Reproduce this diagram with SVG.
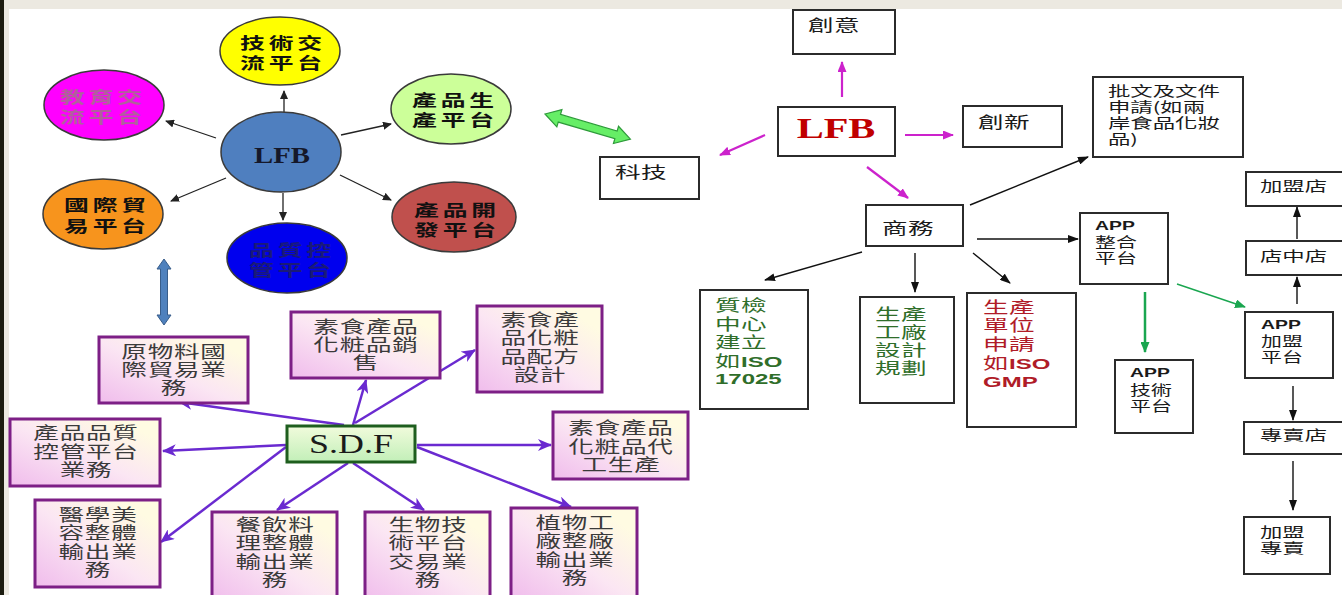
<svg xmlns="http://www.w3.org/2000/svg" width="1342" height="595" viewBox="0 0 1342 595">
<style>
.ct{font-family:"Noto Sans CJK TC","Noto Sans CJK SC",sans-serif;font-size:16px;font-weight:700;letter-spacing:2.5px;text-anchor:middle;}
.circ{stroke:#3a3a3a;stroke-width:1.5;}
.sbox{fill:url(#pk);stroke:#7d1f86;stroke-width:3;}
.st{font-family:"Noto Sans CJK TC","Noto Sans CJK SC",sans-serif;font-size:16.5px;fill:#3a3a3a;text-anchor:middle;letter-spacing:0.5px;}
.rbox{fill:#fff;stroke:#2b2b2b;stroke-width:2;}
.rt{font-family:"Noto Sans CJK TC","Noto Sans CJK SC",sans-serif;font-size:16px;fill:#1a1a1a;letter-spacing:0.3px;}
.r16{font-size:14px;letter-spacing:0;}
.r15{font-size:13.5px;letter-spacing:0;}
.lat{font-family:"Liberation Sans",Arial,sans-serif;font-weight:700;letter-spacing:0;}
.gt{fill:#2f6e2a;}
.redt{fill:#b01c28;}
.thin{stroke:#222;stroke-width:1.3;fill:none;marker-end:url(#as);}
.blk{stroke:#111;stroke-width:1.4;fill:none;marker-end:url(#ab);}
.mag{stroke:#cc22cc;stroke-width:2.2;fill:none;marker-end:url(#am);}
.grn{stroke:#1aa650;stroke-width:1.4;fill:none;marker-end:url(#ag);}
.pur{stroke:#6a2ad0;stroke-width:2.5;fill:none;marker-end:url(#ap);}
</style>
<defs>
<linearGradient id="pk" x1="0" y1="1" x2="0.85" y2="0.15">
<stop offset="0" stop-color="#f0bcec"/>
<stop offset="0.55" stop-color="#fbe6f3"/>
<stop offset="1" stop-color="#fffbe2"/>
</linearGradient>
<linearGradient id="gg" x1="0" y1="0" x2="0" y2="1">
<stop offset="0" stop-color="#f1fbdc"/>
<stop offset="1" stop-color="#c2efb8"/>
</linearGradient>
<marker id="as" markerUnits="userSpaceOnUse" markerWidth="9" markerHeight="8" refX="8" refY="4" orient="auto"><path d="M0,0 L9,4 L0,8 z" fill="#222"/></marker>
<marker id="ab" markerUnits="userSpaceOnUse" markerWidth="11" markerHeight="8" refX="10" refY="4" orient="auto"><path d="M0,0 L11,4 L0,8 z" fill="#111"/></marker>
<marker id="am" markerUnits="userSpaceOnUse" markerWidth="11" markerHeight="9" refX="10" refY="4.5" orient="auto"><path d="M0,0 L11,4.5 L0,9 z" fill="#cc22cc"/></marker>
<marker id="ag" markerUnits="userSpaceOnUse" markerWidth="11" markerHeight="9" refX="10" refY="4.5" orient="auto"><path d="M0,0 L11,4.5 L0,9 z" fill="#1aa650"/></marker>
<marker id="ap" markerUnits="userSpaceOnUse" markerWidth="14" markerHeight="12" refX="13" refY="6" orient="auto"><path d="M0,0 L14,6 L0,12 L4,6 z" fill="#6a2ad0"/></marker>
</defs>

<rect x="0" y="0" width="1342" height="595" fill="#ffffff"/>
<rect x="0" y="0" width="1342" height="9" fill="#ece9e1"/>
<rect x="4" y="0" width="5" height="595" fill="#ece9e1"/>
<rect x="0" y="0" width="4" height="595" fill="#1c1c10"/>

<g id="connectors">
<line class="thin" x1="284" y1="113" x2="284" y2="91"/>
<line class="thin" x1="216" y1="138" x2="166" y2="121"/>
<line class="thin" x1="341" y1="135" x2="391" y2="124"/>
<line class="thin" x1="226" y1="178" x2="171" y2="201"/>
<line class="thin" x1="283" y1="193" x2="283" y2="220"/>
<line class="thin" x1="340" y1="175" x2="391" y2="200"/>
<polygon points="164,259 171,269 167.5,269 167.5,315 171,315 164,325 157,315 160.5,315 160.5,269 157,269" fill="#4f81bd" stroke="#385d8a" stroke-width="1"/>
<polygon transform="translate(545,114) rotate(16.4)" points="0,0 15,-9 15,-4 74,-4 74,-9 89,0 74,9 74,4 15,4 15,9" fill="#66ee66" stroke="#2e9a3a" stroke-width="1.2"/>
<line class="pur" x1="344" y1="425" x2="179" y2="402"/>
<line class="pur" x1="353" y1="425" x2="366" y2="380"/>
<line class="pur" x1="355" y1="423" x2="475" y2="350"/>
<line class="pur" x1="417" y1="445" x2="551" y2="445"/>
<line class="pur" x1="286" y1="445" x2="163" y2="451"/>
<line class="pur" x1="286" y1="447" x2="161" y2="542"/>
<line class="pur" x1="348" y1="463" x2="277" y2="510"/>
<line class="pur" x1="353" y1="463" x2="424" y2="510"/>
<line class="pur" x1="417" y1="447" x2="571" y2="507"/>
<line class="mag" x1="842" y1="97" x2="842" y2="62"/>
<line class="mag" x1="905" y1="135" x2="953" y2="135"/>
<line class="mag" x1="765" y1="135" x2="720" y2="155"/>
<line class="mag" x1="867" y1="167" x2="908" y2="198"/>
<line class="blk" x1="970" y1="205" x2="1088" y2="157"/>
<line class="blk" x1="977" y1="239" x2="1078" y2="239"/>
<line class="blk" x1="862" y1="252" x2="765" y2="280"/>
<line class="blk" x1="915" y1="253" x2="915" y2="292"/>
<line class="blk" x1="973" y1="253" x2="1010" y2="283"/>
<line class="grn" x1="1145" y1="292" x2="1145" y2="352" style="stroke-width:2.5"/>
<line class="grn" x1="1177" y1="284" x2="1245" y2="307"/>
<line class="blk" x1="1297" y1="304" x2="1297" y2="277"/>
<line class="blk" x1="1297" y1="239" x2="1297" y2="207"/>
<line class="blk" x1="1293" y1="386" x2="1293" y2="420"/>
<line class="blk" x1="1293" y1="461" x2="1293" y2="510"/>
</g>

<g id="c-jishu"><ellipse class="circ" cx="280" cy="51" rx="60" ry="34" fill="#ffff00"/>
<text class="ct" transform="matrix(1.55 0 0 1 283 49)" fill="#111"><tspan x="0" y="0">技術交</tspan><tspan x="0" y="20">流平台</tspan></text></g>
<g id="c-jiaoyu"><ellipse class="circ" cx="104" cy="105" rx="60" ry="35" fill="#ff00ff"/>
<text class="ct" transform="matrix(1.55 0 0 1 103 103)" fill="#b0609c"><tspan x="0" y="0">教育交</tspan><tspan x="0" y="20">流平台</tspan></text></g>
<g id="c-shengchan"><ellipse class="circ" cx="451" cy="109" rx="60" ry="35" fill="#ccff99"/>
<text class="ct" transform="matrix(1.55 0 0 1 455 106)" fill="#111"><tspan x="0" y="0">產品生</tspan><tspan x="0" y="20">產平台</tspan></text></g>
<g id="c-lfb"><ellipse class="circ" cx="281" cy="152" rx="60" ry="40" fill="#4f7fbf"/>
<text transform="matrix(1.25 0 0 1 282 162.5)" text-anchor="middle" font-family="Liberation Serif,serif" font-weight="700" font-size="23" fill="#15182a">LFB</text></g>
<g id="c-guoji"><ellipse class="circ" cx="103" cy="214" rx="60" ry="35" fill="#f7941d"/>
<text class="ct" transform="matrix(1.55 0 0 1 107 211)" fill="#111"><tspan x="0" y="0">國際貿</tspan><tspan x="0" y="21">易平台</tspan></text></g>
<g id="c-pinzhi"><ellipse class="circ" cx="287" cy="258" rx="60" ry="35" fill="#0000ee"/>
<text class="ct" transform="matrix(1.55 0 0 1 292 256)" fill="#1a1a78"><tspan x="0" y="0">品質控</tspan><tspan x="0" y="20">管平台</tspan></text></g>
<g id="c-kaifa"><ellipse class="circ" cx="454" cy="217" rx="62" ry="35" fill="#c0504d"/>
<text class="ct" transform="matrix(1.55 0 0 1 457 216)" fill="#111"><tspan x="0" y="0">產品開</tspan><tspan x="0" y="20">發平台</tspan></text></g>

<g id="sdf"><rect x="287" y="426" width="128" height="36" fill="url(#gg)" stroke="#1e5e1e" stroke-width="3"/>
<text transform="matrix(1.33 0 0 1 351 453)" text-anchor="middle" font-family="Liberation Serif,serif" font-size="27" fill="#1a1a1a">S.D.F</text></g>
<g id="s-yuanwuliao"><rect class="sbox" x="99" y="337" width="149" height="66"/>
<text class="st" transform="matrix(1.55 0 0 1 174 358)"><tspan x="0" y="0">原物料國</tspan><tspan x="0" y="18">際貿易業</tspan><tspan x="0" y="36">務</tspan></text></g>
<g id="s-xiaoshou"><rect class="sbox" x="291" y="312" width="149" height="66"/>
<text class="st" transform="matrix(1.55 0 0 1 366 333)"><tspan x="0" y="0">素食產品</tspan><tspan x="0" y="18">化粧品銷</tspan><tspan x="0" y="36">售</tspan></text></g>
<g id="s-peifang"><rect class="sbox" x="477" y="306" width="125" height="86"/>
<text class="st" transform="matrix(1.55 0 0 1 540 326)"><tspan x="0" y="0">素食產</tspan><tspan x="0" y="18.3">品化粧</tspan><tspan x="0" y="36.6">品配方</tspan><tspan x="0" y="55">設計</tspan></text></g>
<g id="s-daigong"><rect class="sbox" x="553" y="412" width="135" height="67"/>
<text class="st" transform="matrix(1.55 0 0 1 621 434)"><tspan x="0" y="0">素食產品</tspan><tspan x="0" y="18.5">化粧品代</tspan><tspan x="0" y="37">工生產</tspan></text></g>
<g id="s-pinzhi"><rect class="sbox" x="10" y="419" width="150" height="67"/>
<text class="st" transform="matrix(1.55 0 0 1 86 439)"><tspan x="0" y="0">產品品質</tspan><tspan x="0" y="18.5">控管平台</tspan><tspan x="0" y="37">業務</tspan></text></g>
<g id="s-yixue"><rect class="sbox" x="35" y="500" width="125" height="87"/>
<text class="st" transform="matrix(1.55 0 0 1 98 521)"><tspan x="0" y="0">醫學美</tspan><tspan x="0" y="18.3">容整體</tspan><tspan x="0" y="36.6">輸出業</tspan><tspan x="0" y="55">務</tspan></text></g>
<g id="s-canyin"><rect class="sbox" x="212" y="512" width="125" height="90"/>
<text class="st" transform="matrix(1.55 0 0 1 275 531)"><tspan x="0" y="0">餐飲料</tspan><tspan x="0" y="18.3">理整體</tspan><tspan x="0" y="36.6">輸出業</tspan><tspan x="0" y="55">務</tspan></text></g>
<g id="s-shengwu"><rect class="sbox" x="365" y="512" width="125" height="90"/>
<text class="st" transform="matrix(1.55 0 0 1 428 531)"><tspan x="0" y="0">生物技</tspan><tspan x="0" y="18.3">術平台</tspan><tspan x="0" y="36.6">交易業</tspan><tspan x="0" y="55">務</tspan></text></g>
<g id="s-zhiwu"><rect class="sbox" x="511" y="508" width="126" height="90"/>
<text class="st" transform="matrix(1.55 0 0 1 575 529)"><tspan x="0" y="0">植物工</tspan><tspan x="0" y="18.3">廠整廠</tspan><tspan x="0" y="36.6">輸出業</tspan><tspan x="0" y="55">務</tspan></text></g>

<g id="r-chuangyi"><rect class="rbox" x="793" y="10" width="102" height="44"/>
<text class="rt" transform="matrix(1.6 0 0 1 808 31)">創意</text></g>
<g id="r-lfb"><rect class="rbox" x="778" y="107" width="117" height="49"/>
<text transform="matrix(1.35 0 0 1 836 138)" text-anchor="middle" font-family="Liberation Serif,serif" font-weight="700" font-size="30" fill="#c00000">LFB</text></g>
<g id="r-chuangxin"><rect class="rbox" x="963" y="106" width="99" height="41"/>
<text class="rt" transform="matrix(1.6 0 0 1 978 128)">創新</text></g>
<g id="r-keji"><rect class="rbox" x="600" y="157" width="99" height="42"/>
<text class="rt" transform="matrix(1.6 0 0 1 615 178)">科技</text></g>
<g id="r-shangwu"><rect class="rbox" x="866" y="205" width="97" height="41"/>
<text class="rt" transform="matrix(1.6 0 0 1 882 234)">商務</text></g>
<g id="r-piwen"><rect class="rbox" x="1093" y="77" width="150" height="80"/>
<text class="rt r16" transform="matrix(1.6 0 0 1 1108 96)"><tspan x="0" y="0">批文及文件</tspan><tspan x="0" y="16">申請(如兩</tspan><tspan x="0" y="32">岸食品化妝</tspan><tspan x="0" y="48">品)</tspan></text></g>
<g id="r-zhijian"><rect class="rbox" x="700" y="290" width="108" height="119"/>
<text class="rt gt" transform="matrix(1.6 0 0 1 715 311)"><tspan x="0" y="0">質檢</tspan><tspan x="0" y="18.5">中心</tspan><tspan x="0" y="37">建立</tspan><tspan x="0" y="56.5">如<tspan class="lat" font-size="15">ISO</tspan></tspan><tspan class="lat" font-size="15" x="0" y="73.5">17025</tspan></text></g>
<g id="r-gongchang"><rect class="rbox" x="860" y="297" width="94" height="106"/>
<text class="rt gt" transform="matrix(1.6 0 0 1 875 319.5)"><tspan x="0" y="0">生產</tspan><tspan x="0" y="18.3">工廠</tspan><tspan x="0" y="36.6">設計</tspan><tspan x="0" y="55">規劃</tspan></text></g>
<g id="r-danwei"><rect class="rbox" x="967" y="293" width="109" height="134"/>
<text class="rt redt" transform="matrix(1.6 0 0 1 983 312.5)"><tspan x="0" y="0">生產</tspan><tspan x="0" y="18.5">單位</tspan><tspan x="0" y="37.5">申請</tspan><tspan x="0" y="57">如<tspan class="lat" font-size="15">ISO</tspan></tspan><tspan class="lat" font-size="15" x="0" y="75">GMP</tspan></text></g>
<g id="r-appzhenghe"><rect class="rbox" x="1080" y="213" width="88" height="71"/>
<text class="rt r15" transform="matrix(1.55 0 0 1 1095 230)"><tspan class="lat" font-size="12.5" x="0" y="0">APP</tspan><tspan x="0" y="17.5">整合</tspan><tspan x="0" y="33.5">平台</tspan></text></g>
<g id="r-appjishu"><rect class="rbox" x="1115" y="360" width="78" height="73"/>
<text class="rt r15" transform="matrix(1.55 0 0 1 1130 376.5)"><tspan class="lat" font-size="12.5" x="0" y="0">APP</tspan><tspan x="0" y="18.5">技術</tspan><tspan x="0" y="34.5">平台</tspan></text></g>
<g id="r-jiamengdian"><rect class="rbox" x="1246" y="172" width="100" height="34"/>
<text class="rt r16" transform="matrix(1.6 0 0 1 1260 191)">加盟店</text></g>
<g id="r-dianzhongdian"><rect class="rbox" x="1246" y="241" width="100" height="34"/>
<text class="rt r16" transform="matrix(1.6 0 0 1 1260 261)">店中店</text></g>
<g id="r-appjiameng"><rect class="rbox" x="1245" y="312" width="88" height="66"/>
<text class="rt r15" transform="matrix(1.55 0 0 1 1261 329)"><tspan class="lat" font-size="12.5" x="0" y="0">APP</tspan><tspan x="0" y="17.5">加盟</tspan><tspan x="0" y="33">平台</tspan></text></g>
<g id="r-zhuanmaidian"><rect class="rbox" x="1244" y="422" width="102" height="32"/>
<text class="rt r16" transform="matrix(1.6 0 0 1 1260 440)">專賣店</text></g>
<g id="r-jiamengzhuanmai"><rect class="rbox" x="1244" y="517" width="86" height="57"/>
<text class="rt r16" transform="matrix(1.6 0 0 1 1260 537)"><tspan x="0" y="0">加盟</tspan><tspan x="0" y="15.5">專賣</tspan></text></g>
</svg>
